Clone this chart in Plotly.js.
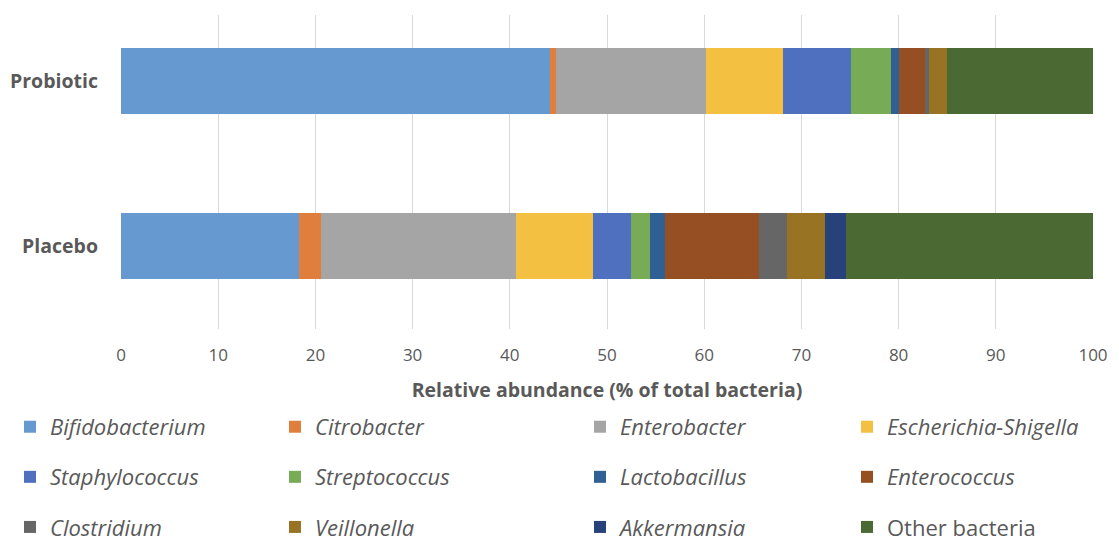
<!DOCTYPE html>
<html>
<head>
<meta charset="utf-8">
<script src="https://cdn.plot.ly/plotly-3.0.1.min.js"></script>
<style>html,body{margin:0;padding:0;background:#fff;}#chart{width:1119px;height:541px;}</style>
</head>
<body>
<div id="chart"></div>
<script>
const groups = ['Placebo', 'Probiotic'];
const genera = ['Bifidobacterium', 'Citrobacter', 'Enterobacter', 'Escherichia-Shigella',
  'Staphylococcus', 'Streptococcus', 'Lactobacillus', 'Enterococcus',
  'Clostridium', 'Veillonella', 'Akkermansia', 'Other bacteria'];
// values per genus: [Placebo, Probiotic]
const bifidobacterium = [18.3, 44.1];
const citrobacter = [2.3, 0.7];
const enterobacter = [20.0, 15.4];
const escherichiaShigella = [8.0, 7.9];
const staphylococcus = [3.9, 7.0];
const streptococcus = [1.9, 4.1];
const lactobacillus = [1.6, 0.8];
const enterococcus = [9.6, 2.7];
const clostridium = [2.9, 0.4];
const veillonella = [3.9, 1.9];
const akkermansia = [2.2, 0.0];
const otherBacteria = [25.4, 15.0];
const xTicks = [0, 10, 20, 30, 40, 50, 60, 70, 80, 90, 100];

const series = [bifidobacterium, citrobacter, enterobacter, escherichiaShigella,
  staphylococcus, streptococcus, lactobacillus, enterococcus,
  clostridium, veillonella, akkermansia, otherBacteria];
const colors = ['#6699cf', '#e07f3d', '#a5a5a5', '#f4c042', '#4f70bf', '#78ab56',
  '#2f5f93', '#954f22', '#666666', '#987324', '#27427a', '#4b6a33'];
const legendIds = ['legend', 'legend2', 'legend3', 'legend4'];

const traces = genera.map((g, i) => ({
  type: 'bar',
  orientation: 'h',
  y: groups,
  x: series[i],
  name: g === 'Other bacteria' ? g : '<i>' + g + '</i>',
  marker: {color: colors[i], line: {width: 0}},
  width: 0.4,
  legend: legendIds[i % 4],
  legendgroup: 'g' + i,
  hoverinfo: 'x+name'
}));

const FONT = 'Open Sans, sans-serif';
const GREY = '#595959';
function leg(xv) {
  return {
    orientation: 'v', x: xv, xanchor: 'left', y: -0.245, yanchor: 'top',
    traceorder: 'grouped', tracegroupgap: 18.5,
    font: {family: FONT, size: 22, color: GREY},
    bgcolor: 'rgba(0,0,0,0)', borderwidth: 0, itemclick: false
  };
}

const layout = {
  width: 1119, height: 541,
  margin: {l: 121, r: 26, t: 15, b: 212, autoexpand: false},
  barmode: 'stack',
  paper_bgcolor: '#fff', plot_bgcolor: '#fff',
  font: {family: FONT, color: GREY},
  showlegend: true,
  xaxis: {
    range: [0, 100], tickvals: xTicks, ticktext: xTicks.map(String),
    showgrid: true, gridcolor: '#d9d9d9', gridwidth: 1, zeroline: false,
    showline: false, ticks: '', ticklabelstandoff: 14, automargin: false,
    tickfont: {family: FONT, size: 17, color: GREY},
    title: {text: '<b>Relative abundance (% of total bacteria)</b>', font: {family: FONT, size: 19.5, color: GREY}, standoff: 18}
  },
  yaxis: {
    type: 'category', categoryorder: 'array', categoryarray: groups,
    range: [-0.5, 1.4], showgrid: false, zeroline: false, showline: false,
    ticks: '', ticklabelstandoff: 22, automargin: false,
    tickfont: {family: FONT, size: 19.5, color: GREY},
    tickvals: groups, ticktext: groups.map(s => '<b>' + s + '</b>')
  },
  legend: leg(-0.1142),
  legend2: leg(0.1584),
  legend3: leg(0.4722),
  legend4: leg(0.7469)
};

Plotly.newPlot('chart', traces, layout, {displayModeBar: false, staticPlot: true});
</script>
</body>
</html>
